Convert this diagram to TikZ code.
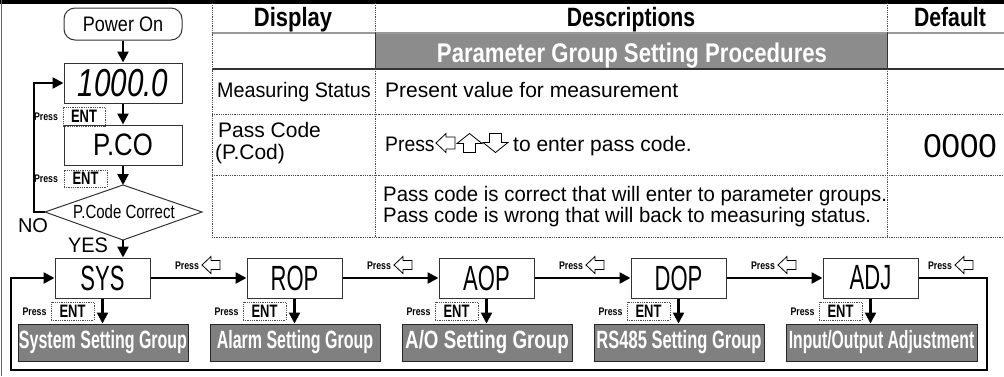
\documentclass[tikz,border=0pt]{standalone}
\usepackage{fontspec}
\setmainfont{Liberation Sans}
\usepackage{graphicx}
\usetikzlibrary{arrows.meta}
\newcommand\tx[3]{\scalebox{#2}[1]{\fontsize{#1}{#1}\selectfont #3}}
\newcommand\tb[3]{\scalebox{#2}[1]{\fontsize{#1}{#1}\selectfont\bfseries #3}}
\newcommand\larr[2]{\draw[oarrow] (#1,#2) -- ++(9,-8.5) -- ++(0,4) -- ++(9,0) -- ++(0,9) -- ++(-9,0) -- ++(0,4) -- cycle;}
\begin{document}
\begin{tikzpicture}[x=1pt,y=-1pt,
  box/.style={draw=black!80,line width=1pt,minimum width=118pt,minimum height=40pt,inner sep=0pt},
  fbox/.style={draw=black!80,line width=1pt,minimum width=95pt,minimum height=40pt,inner sep=0pt},
  grp/.style={draw=black!85,line width=1pt,fill=black!50,minimum height=37pt,inner sep=0pt,text=white},
  entbox/.style={draw=black!70,line width=0.7pt,dash pattern=on 0.8pt off 1pt,inner sep=0pt,minimum width=43pt,minimum height=18pt},
  conn/.style={line width=2.4pt,-{Triangle[length=11pt,width=11pt]}},
  txt/.style={inner sep=0pt},
  dline/.style={line width=0.8pt,black!70,dash pattern=on 0.8pt off 1pt},
  oarrow/.style={draw=black,line width=0.8pt,fill=white,line join=miter},
]
\useasboundingbox (0,0) rectangle (1004,376);
% frame
\fill[black] (0,0) rectangle (1004,3.5);
\draw[black!60,line width=1.2pt] (1.5,0) -- (1.5,376);
% table
\fill[black!45] (375,33) rectangle (887,69);
\draw[black!40,line width=2.5pt] (212,33) -- (1004,33);
\draw[black!80,line width=1.5pt] (212,69) -- (1004,69);
\draw[black!80,line width=1pt] (375,33) -- (375,69) (887,33) -- (887,69);
\draw[dline] (212,3) -- (212,237) (375,3) -- (375,33) (375,69) -- (375,237)
  (887,3) -- (887,33) (887,69) -- (887,237)
  (212,114) -- (1004,114) (212,175) -- (1004,175) (212,237) -- (1004,237);
\node[txt,anchor=base] (hD) at (293,26) {\tb{26.5}{0.83}{Display}};
\node[txt,anchor=base] (hDe) at (631,26) {\tb{26.5}{0.8}{Descriptions}};
\node[txt,anchor=base] (hDf) at (950,26) {\tb{26.5}{0.8}{Default}};
\node[txt,anchor=base,text=white] (band) at (632,62) {\tb{27}{0.82}{Parameter Group Setting Procedures}};
\node[txt,anchor=base west] (r1a) at (217,97) {\tx{21}{0.94}{Measuring Status}};
\node[txt,anchor=base west] (r1b) at (385,97) {\tx{21}{1}{Present value for measurement}};
\node[txt,anchor=base west] (r2a) at (218,137) {\tx{21}{1}{Pass Code}};
\node[txt,anchor=base west] (r2b) at (215,159) {\tx{21}{1}{(P.Cod)}};
\node[txt,anchor=base west] (r2c) at (385,151) {\tx{21}{0.92}{Press}};
\node[txt,anchor=base west] (r2d) at (513,151) {\tx{21}{1}{to enter pass code.}};
\node[txt,anchor=base] (r2e) at (960,157) {\tx{33}{1}{0000}};
\node[txt,anchor=base west] (r3a) at (383,201) {\tx{21}{0.97}{Pass code is correct that will enter to parameter groups.}};
\node[txt,anchor=base west] (r3b) at (383,222) {\tx{21}{0.97}{Pass code is wrong that will back to measuring status.}};
% white arrows in table
\draw[oarrow] (436,143) -- (446,133.5) -- (446,137) -- (455,137) -- (455,149) -- (446,149) -- (446,152.5) -- cycle;
\draw[oarrow] (469.5,133.5) -- (482,143.5) -- (475.5,143.5) -- (475.5,152.5) -- (463.5,152.5) -- (463.5,143.5) -- (457,143.5) -- cycle;
\draw[oarrow] (495.5,152.5) -- (508,142.5) -- (501.5,142.5) -- (501.5,133.5) -- (489.5,133.5) -- (489.5,142.5) -- (483,142.5) -- cycle;
% left flow
\node[box,rounded corners=11pt,minimum height=32pt] (pw) at (123,24) {\tx{21}{0.86}{Power On}};
\node[box] (m1) at (123,83) {\tx{39}{0.76}{\itshape 1000.0}};
\node[box] (pc) at (123,145) {\tx{31}{0.83}{P.CO}};
\coordinate (dT) at (123,185);
\coordinate (dR) at (202,212);
\coordinate (dB) at (123,240);
\coordinate (dL) at (45,212);
\coordinate (noC) at (34,212);
\draw[line width=1pt,black!80] (dT) -- (dR) -- (dB) -- (dL) -- cycle;
\node[txt] (dtx) at (124,212) {\tx{19}{0.79}{P.Code Correct}};
\node[entbox,minimum width=42pt,minimum height=19pt] (e1) at (84,116.5) {\tb{18}{0.72}{ENT}};
\node[txt] (p1) at (46,117) {\tb{11}{0.8}{Press}};
\node[entbox,minimum height=17pt] (e2) at (85.5,178.5) {\tb{18}{0.72}{ENT}};
\node[txt] (p2) at (46,179) {\tb{11}{0.8}{Press}};
\node[txt] (no) at (33,226) {\tx{20}{1}{NO}};
\node[txt] (yes) at (88,245) {\tx{21}{0.95}{YES}};
\draw[conn] (pw.south) -- (m1.north);
\draw[conn] (m1.south) -- (pc.north);
\draw[conn] (pc.south) -- (dT);
\draw[conn,line join=miter] (dL) -- (noC) |- (m1.west);
% bottom row
\foreach \i/\lab in {0/SYS,1/ROP,2/AOP,3/DOP,4/ADJ}{
  \node[fbox] (b\i) at ({102.5+192*\i},278) {\tx{35}{0.63}{\lab}};
  \node[entbox] (eb\i) at ({72.5+192*\i},311) {\tb{18}{0.72}{ENT}};
  \node[txt] (pb\i) at ({34.5+192*\i},312) {\tb{11}{0.8}{Press}};
}
\node[grp,minimum width=170pt] (g0) at (103,342.5) {\tb{25}{0.64}{System Setting Group}};
\node[grp,minimum width=170pt] (g1) at (295,342.5) {\tb{25}{0.64}{Alarm Setting Group}};
\node[grp,minimum width=170pt] (g2) at (487,342.5) {\tb{25}{0.75}{A/O Setting Group}};
\node[grp,minimum width=170pt] (g3) at (679,342.5) {\tb{25}{0.66}{RS485 Setting Group}};
\node[grp,minimum width=191pt] (g4) at (881.5,342.5) {\tb{25}{0.63}{Input/Output Adjustment}};
\draw[conn] (dB) -- (dB |- b0.north);
\foreach \i in {0,...,4}{
  \draw[conn] (b\i.south) -- (b\i.south |- g\i.north);
}
\foreach \i/\j in {0/1,1/2,2/3,3/4}{
  \draw[conn] (b\i.east) -- (b\j.west);
  \node[txt] (pr\i) at ({187+192*\i},266) {\tb{11}{0.8}{Press}};
  \larr{202+192*\i}{265}
}
\node[txt] (pr4) at (940,266) {\tb{11}{0.8}{Press}};
\larr{955}{265}
\coordinate (lpR) at (987,370);
\coordinate (lpL) at (11,370);
\draw[conn,line join=miter] (b4.east) -| (lpR) -- (lpL) |- (b0.west);
\end{tikzpicture}
\end{document}
